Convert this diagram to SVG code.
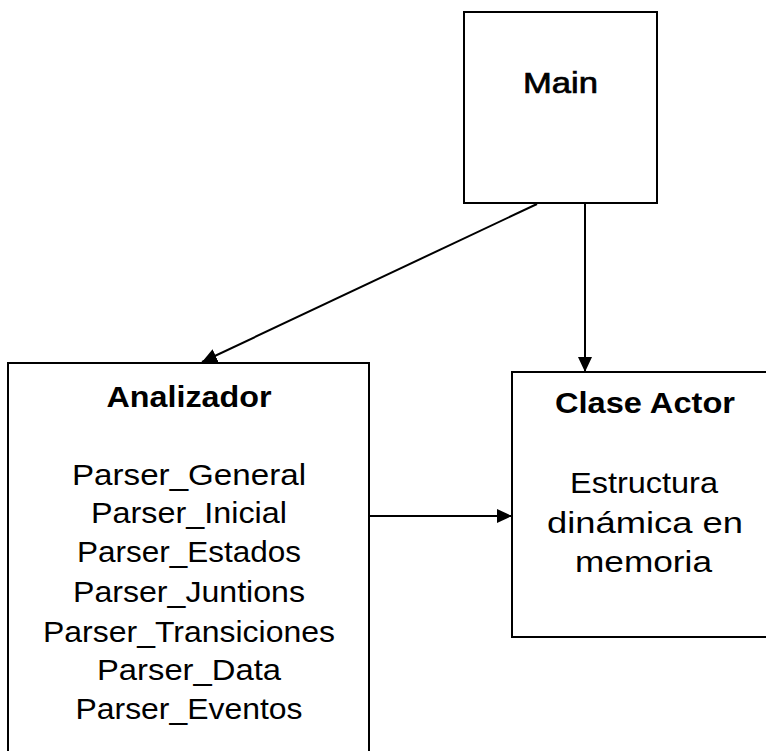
<svg xmlns="http://www.w3.org/2000/svg" width="766" height="751" viewBox="0 0 766 751">
  <style>
    .box { fill: #ffffff; stroke: #000000; stroke-width: 2; }
    .link { fill: none; stroke: #000000; stroke-width: 2; }
    .title { font-family: "Liberation Sans", Arial, sans-serif; font-weight: bold; font-size: 29px; fill: #000000; text-anchor: middle; }
    .main { font-family: "Liberation Sans", Arial, sans-serif; font-size: 30px; fill: #000000; stroke: #000000; stroke-width: 0.7; text-anchor: middle; }
    .body { font-family: "Liberation Sans", Arial, sans-serif; font-size: 30px; fill: #000000; text-anchor: middle; }
  </style>
  <defs>
    <marker id="arrow" markerUnits="userSpaceOnUse" markerWidth="16" markerHeight="16" viewBox="0 0 16 16" refX="15" refY="8" orient="auto">
      <path d="M0,1 L15,8 L0,15 Z" fill="#000000"/>
    </marker>
  </defs>
  <rect width="766" height="751" fill="#ffffff"/>

  <!-- connectors -->
  <g id="connectors">
    <line class="link" x1="537" y1="204" x2="202" y2="362" marker-end="url(#arrow)"/>
    <line class="link" x1="585" y1="204" x2="585" y2="372" marker-end="url(#arrow)"/>
    <line class="link" x1="369" y1="516" x2="512" y2="516" marker-end="url(#arrow)"/>
  </g>

  <g id="main">
    <rect class="box" x="464" y="12" width="193" height="191"/>
    <text class="main" x="560.5" y="93" textLength="75" lengthAdjust="spacingAndGlyphs">Main</text>
  </g>

  <g id="analizador">
    <rect class="box" x="8" y="363" width="361" height="400"/>
    <text class="title" x="189" y="407" textLength="165" lengthAdjust="spacingAndGlyphs">Analizador</text>
    <text class="body" x="189" y="485" textLength="234" lengthAdjust="spacingAndGlyphs">Parser_General</text>
    <text class="body" x="189" y="523" textLength="196" lengthAdjust="spacingAndGlyphs">Parser_Inicial</text>
    <text class="body" x="189" y="562" textLength="224" lengthAdjust="spacingAndGlyphs">Parser_Estados</text>
    <text class="body" x="189" y="602" textLength="232" lengthAdjust="spacingAndGlyphs">Parser_Juntions</text>
    <text class="body" x="189" y="642" textLength="292" lengthAdjust="spacingAndGlyphs">Parser_Transiciones</text>
    <text class="body" x="189" y="680" textLength="184" lengthAdjust="spacingAndGlyphs">Parser_Data</text>
    <text class="body" x="189" y="719" textLength="227" lengthAdjust="spacingAndGlyphs">Parser_Eventos</text>
  </g>

  <g id="clase-actor">
    <rect class="box" x="512" y="372" width="264" height="265"/>
    <text class="title" x="645" y="413" textLength="180" lengthAdjust="spacingAndGlyphs">Clase Actor</text>
    <text class="body" x="644" y="493" textLength="148" lengthAdjust="spacingAndGlyphs">Estructura</text>
    <text class="body" x="645" y="533" textLength="196" lengthAdjust="spacingAndGlyphs">dinámica en</text>
    <text class="body" x="643.5" y="572" textLength="137" lengthAdjust="spacingAndGlyphs">memoria</text>
  </g>
</svg>
